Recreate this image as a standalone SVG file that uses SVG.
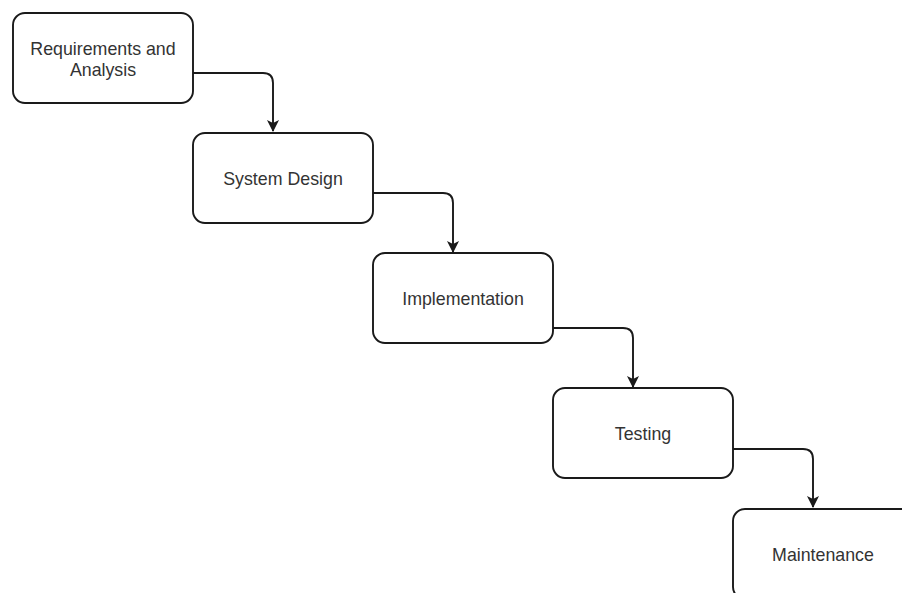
<svg xmlns="http://www.w3.org/2000/svg" width="902" height="593" viewBox="0 0 902 593">
<style>
.box{fill:#fff;stroke:#1a1a1a;stroke-width:1.9}
.lbl{font-family:"Liberation Sans",Arial,sans-serif;font-size:17.8px;fill:#333;text-anchor:middle}
.conn{fill:none;stroke:#1a1a1a;stroke-width:1.9}
</style>
<defs>
<marker id="arr" markerWidth="12" markerHeight="12" refX="11" refY="6" orient="auto" markerUnits="userSpaceOnUse">
<path d="M0,0 L12,6 L0,12 L3,6 Z" fill="#1a1a1a"/>
</marker>
</defs>
<rect width="902" height="593" fill="#fff"/>
<g id="connectors">
<path class="conn" d="M193,73 H263 Q273,73 273,83 V131" marker-end="url(#arr)"/>
<path class="conn" d="M373,193 H443 Q453,193 453,203 V252" marker-end="url(#arr)"/>
<path class="conn" d="M553,328 H623 Q633,328 633,338 V387" marker-end="url(#arr)"/>
<path class="conn" d="M733,449 H803 Q813,449 813,459 V507" marker-end="url(#arr)"/>
</g>
<g id="node1">
<rect class="box" x="13" y="13" width="180" height="90" rx="12"/>
<text class="lbl" x="103" y="55">Requirements and</text>
<text class="lbl" x="103" y="76">Analysis</text>
</g>
<g id="node2">
<rect class="box" x="193" y="133" width="180" height="90" rx="12"/>
<text class="lbl" x="283" y="185">System Design</text>
</g>
<g id="node3">
<rect class="box" x="373" y="253" width="180" height="90" rx="12"/>
<text class="lbl" x="463" y="305">Implementation</text>
</g>
<g id="node4">
<rect class="box" x="553" y="388" width="180" height="90" rx="12"/>
<text class="lbl" x="643" y="440">Testing</text>
</g>
<g id="node5">
<rect class="box" x="733" y="509" width="180" height="90" rx="12"/>
<text class="lbl" x="823" y="561">Maintenance</text>
</g>
</svg>
